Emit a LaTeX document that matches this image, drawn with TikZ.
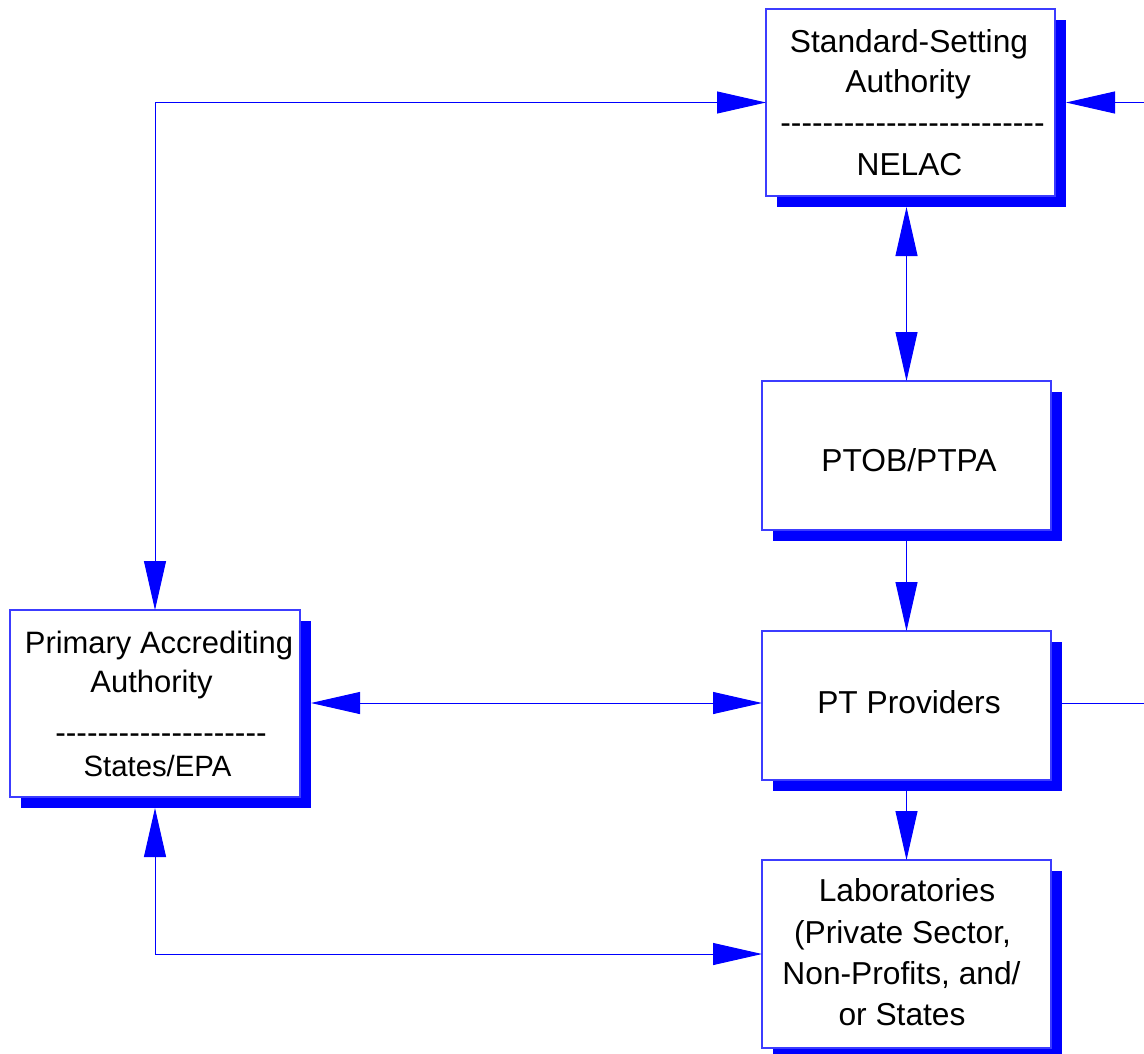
\documentclass[tikz,border=0pt]{standalone}
\usepackage{fontspec}
\newfontfamily\arial{Liberation Sans}
\usetikzlibrary{arrows.meta}
\definecolor{boxline}{RGB}{60,60,255}
\tikzset{
 box/.style n args={2}{draw=boxline, line width=0.8pt, fill=white, rectangle, inner sep=0pt, outer sep=0pt, minimum width={#1*0.75pt}, minimum height={#2*0.75pt}},
 shadowbox/.style n args={2}{fill=blue, rectangle, inner sep=0pt, outer sep=0pt, minimum width={#1*0.75pt}, minimum height={#2*0.75pt}},
 txt/.style={font=\arial\fontsize{23.8}{28}\selectfont, anchor=base, inner sep=0pt},
 mtxt/.style={font=\arial\fontsize{23.2}{28}\selectfont, anchor=base, inner sep=0pt},
 stxt/.style={font=\arial\fontsize{22}{26}\selectfont, anchor=base, inner sep=0pt},
 link/.style={draw=blue, line width=0.75pt},
 tip/.style={-{Triangle[length=36.75pt,width=16.5pt]}},
 tips/.style={{Triangle[length=36.75pt,width=16.5pt]}-{Triangle[length=36.75pt,width=16.5pt]}},
}
\begin{document}
\begin{tikzpicture}[x=0.75pt,y=-0.75pt]
\useasboundingbox[fill=white] (0,0) rectangle (1144,1053);
% shadows
\node[shadowbox={289}{187}] (ssa-s) at (921.5,113.5) {};
\node[shadowbox={289}{149}] (ptob-s) at (917.5,466.5) {};
\node[shadowbox={289}{149}] (ptp-s) at (917.5,716.5) {};
\node[shadowbox={289}{188}] (labs-s) at (917.5,965) {};
\node[shadowbox={290}{187}] (paa-s) at (166,714.5) {};
% boxes
\node[box={289}{187}] (ssa) at (910.5,102.5) {};
\node[box={289}{149}] (ptob) at (906.5,455.5) {};
\node[box={289}{149}] (ptp) at (906.5,705.5) {};
\node[box={289}{188}] (labs) at (906.5,954) {};
\node[box={290}{187}] (paa) at (155,703.5) {};
% texts
\node[txt] (ssa-t1) at (909,52) {Standard-Setting};
\node[txt] (ssa-t2) at (908,92) {Authority};
\node[txt] (ssa-t3) at (912.5,133.6) {-------------------------};
\node[txt] (ssa-t4) at (909.5,175) {NELAC};
\node[txt] (ptob-t) at (909,471) {PTOB/PTPA};
\node[txt] (ptp-t) at (909,713) {PT Providers};
\node[txt] (labs-t1) at (907,901) {Laboratories};
\node[txt] (labs-t2) at (902.5,943) {(Private Sector,};
\node[txt] (labs-t3) at (901.5,984) {Non-Profits, and/};
\node[txt] (labs-t4) at (902,1025) {or States};
\node[mtxt] (paa-t1) at (159,653) {Primary Accrediting};
\node[mtxt] (paa-t2) at (151.5,692) {Authority};
\node[txt] (paa-t3) at (161,743.6) {--------------------};
\node[stxt] (paa-t4) at (157.5,776) {States/EPA};
% connectors
\coordinate (rin) at (1144,102.5);
\coordinate (rout) at (1144,703);
\draw[link,tips] (ssa.west) -| (paa.north);
\draw[link,tip] (rin) -- (rin -| ssa-s.east);
\draw[link,tips] (ptob.north) -- (ptob.north |- ssa-s.south);
\draw[link,tip] (ptp.north |- ptob-s.south) -- (ptp.north);
\draw[link,tips] (paa-s.east |- rout) -- (ptp.west |- rout);
\draw[link] (ptp-s.east |- rout) -- (rout);
\draw[link,tip] (labs.north |- ptp-s.south) -- (labs.north);
\draw[link,tips] (paa.south |- paa-s.south) |- (labs.west);
\end{tikzpicture}
\end{document}
